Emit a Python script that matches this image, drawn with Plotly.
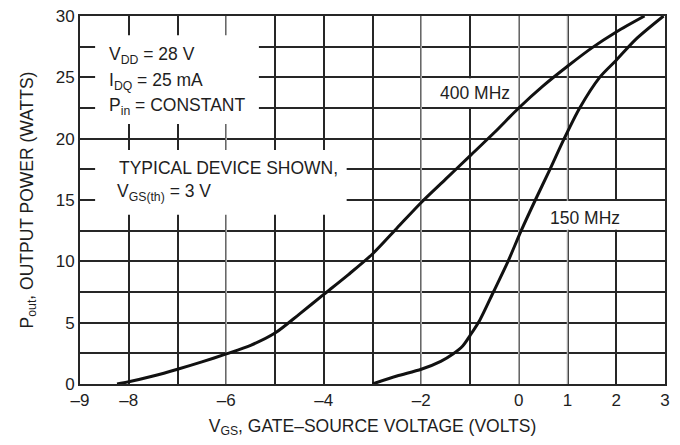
import plotly.graph_objects as go

# ---- data ----
vgs_400 = [-8.24, -8.0, -7.5, -7.0, -6.5, -6.0, -5.5, -5.0, -4.5, -4.0, -3.5, -3.0, -2.5,
           -2.0, -1.5, -1.0, -0.5, 0.0, 0.5, 1.0, 1.5, 2.0, 2.58]
pout_400 = [0.0, 0.18, 0.65, 1.2, 1.8, 2.45, 3.15, 4.15, 5.7, 7.3, 8.9, 10.6, 12.7,
            14.8, 16.7, 18.6, 20.5, 22.5, 24.3, 25.9, 27.4, 28.7, 30.0]

vgs_150 = [-3.0, -2.5, -2.0, -1.6, -1.35, -1.15, -1.0, -0.8, -0.52, -0.22, 0.05, 0.34,
           0.64, 0.92, 1.25, 1.66, 2.0, 2.4, 2.97]
pout_150 = [0.0, 0.65, 1.2, 1.85, 2.45, 3.1, 3.95, 5.2, 7.5, 10.0, 12.5, 15.0,
            17.5, 19.9, 22.5, 25.0, 26.4, 28.1, 30.0]

x_ticks = list(range(-9, 4))
x_labels = ["–9", "–8", "", "–6", "", "–4", "", "–2", "", "0", "1", "2", "3"]
y_ticks = [0, 2.5, 5, 7.5, 10, 12.5, 15, 17.5, 20, 22.5, 25, 27.5, 30]
y_labels = ["0", "", "5", "", "10", "", "15", "", "20", "", "25", "", "30"]

curve_labels = ["400 MHz", "150 MHz"]
cond_lines = ["V<sub>DD</sub> = 28 V", "I<sub>DQ</sub> = 25 mA", "P<sub>in</sub> = CONSTANT"]
note_lines = ["TYPICAL DEVICE SHOWN,", "V<sub>GS(th)</sub> = 3 V"]
x_title = "V<sub>GS</sub>, GATE–SOURCE VOLTAGE (VOLTS)"
y_title = "P<sub>out</sub>, OUTPUT POWER (WATTS)"

FONT = "Liberation Sans, Arial, Helvetica, sans-serif"
INK = "#1e1e1e"
GRID = "#262626"

fig = go.Figure()
for xs, ys in [(vgs_400, pout_400), (vgs_150, pout_150)]:
    fig.add_trace(go.Scatter(x=xs, y=ys, mode="lines",
                             line=dict(color="#111111", width=3, shape="spline", smoothing=0.8),
                             showlegend=False, hoverinfo="skip"))

shapes = []
# lighter grid lines (as in the scanned reference)
for gx in [-6, -2, 0, 1]:
    shapes.append(dict(type="line", xref="x", yref="y", x0=gx, x1=gx, y0=0, y1=30,
                       line=dict(color="#a8a8a8", width=1.5), layer="between"))
# white backgrounds behind the text blocks
for (x0, x1, y0, y1) in [(-8.69, -5.33, 21.19, 28.44), (-8.69, -3.53, 13.8, 19.07),
                         (-1.68, -0.11, 22.58, 24.92), (0.59, 2.11, 12.58, 14.92)]:
    shapes.append(dict(type="rect", xref="x", yref="y", x0=x0, x1=x1, y0=y0, y1=y1,
                       fillcolor="white", line=dict(width=0), layer="between"))

ann = []
for txt, yv in zip(cond_lines, [26.8, 24.7, 22.65]):
    ann.append(dict(x=-8.45, y=yv, text=txt, xanchor="left", yanchor="middle", showarrow=False))
for txt, xv, yv in zip(note_lines, [-8.24, -8.28], [17.64, 15.65]):
    ann.append(dict(x=xv, y=yv, text=txt, xanchor="left", yanchor="middle", showarrow=False))
for txt, xv, yv in zip(curve_labels, [-1.66, 0.61], [23.72, 13.5]):
    ann.append(dict(x=xv, y=yv, text=txt, xanchor="left", yanchor="middle", showarrow=False))
for a in ann:
    a.update(xref="x", yref="y", font=dict(family=FONT, size=17.5, color=INK))

fig.update_layout(
    width=680, height=445,
    margin=dict(l=80, r=15, t=16, b=61, autoexpand=False),
    paper_bgcolor="white", plot_bgcolor="white",
    font=dict(family=FONT, size=17, color=INK),
    shapes=shapes, annotations=ann,
    xaxis=dict(range=[-9, 3], tickvals=x_ticks, ticktext=x_labels, showgrid=True,
               gridcolor=GRID, gridwidth=1.5, zeroline=False, showline=True, mirror=True,
               linecolor=GRID, linewidth=2, ticks="",
               tickfont=dict(family=FONT, size=17, color=INK),
               title=dict(text=x_title, font=dict(family=FONT, size=17.5, color=INK), standoff=10)),
    yaxis=dict(range=[0, 30], tickvals=y_ticks, ticktext=y_labels, showgrid=True,
               gridcolor=GRID, gridwidth=1.5, zeroline=False, showline=True, mirror=True,
               linecolor=GRID, linewidth=2, ticks="",
               tickfont=dict(family=FONT, size=17, color=INK),
               title=dict(text=y_title, font=dict(family=FONT, size=17.5, color=INK), standoff=18)),
)

fig.write_html("out.html")
